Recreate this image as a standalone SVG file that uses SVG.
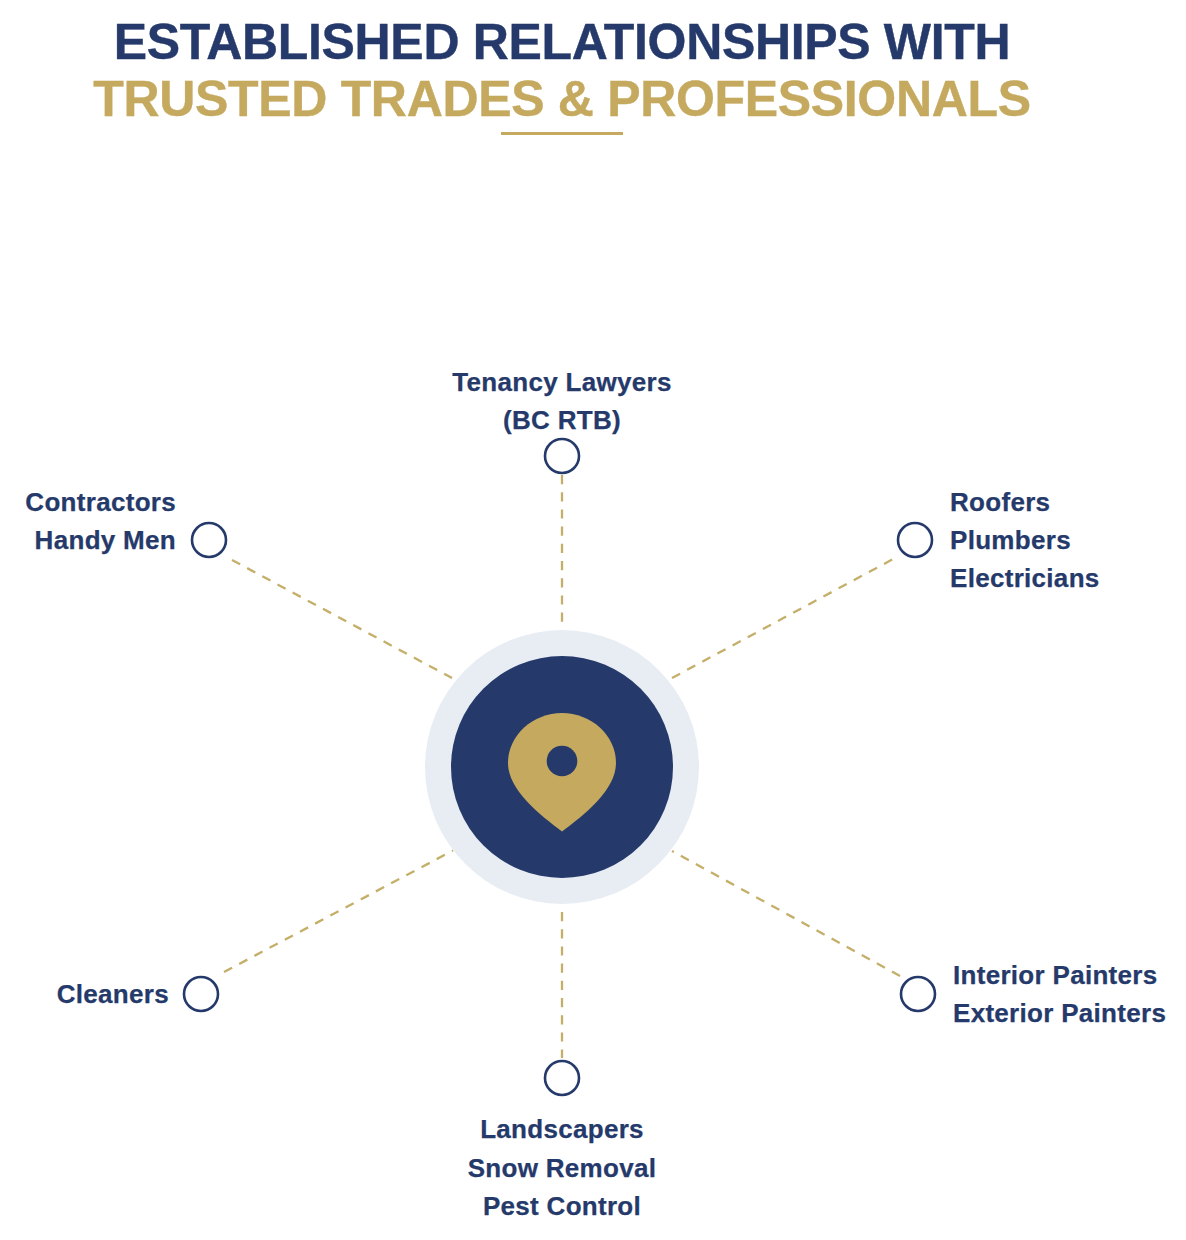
<svg xmlns="http://www.w3.org/2000/svg" width="1186" height="1240" viewBox="0 0 1186 1240">
<style>
.t{font-family:"Liberation Sans",Arial,sans-serif;font-weight:700}
.h{font-size:50px;letter-spacing:-.33px;stroke-width:.4px}
.l{font-size:26px;fill:#253a6b;stroke:#253a6b;stroke-width:.25px;letter-spacing:.3px}
.d{stroke:#c4ae68;stroke-width:2.300;stroke-dasharray:9.200 8;fill:none}
.n{fill:#fff;stroke:#253a6b;stroke-width:2.600}
</style>
<rect width="1186" height="1240" fill="#fff"/>
<text class="t h" x="562" y="59" text-anchor="middle" fill="#253a6b" stroke="#253a6b">ESTABLISHED RELATIONSHIPS WITH</text>
<text class="t h" x="562" y="116" text-anchor="middle" fill="#c4a95e" stroke="#c4a95e">TRUSTED TRADES &amp; PROFESSIONALS</text>
<rect x="501" y="132" width="122" height="3" fill="#c4a95e"/>
<g id="connectors">
<line class="d" x1="562" y1="475" x2="562" y2="622"/>
<line class="d" x1="672" y1="678" x2="895" y2="558"/>
<line class="d" x1="232" y1="560" x2="452" y2="678"/>
<line class="d" x1="224" y1="972" x2="453" y2="850.500"/>
<line class="d" x1="900" y1="976" x2="672" y2="851"/>
<line class="d" x1="562" y1="912" x2="562" y2="1058"/>
</g>
<g id="hub">
<circle cx="562" cy="767" r="137" fill="#e8edf4"/>
<circle cx="562" cy="767" r="111" fill="#253a6b"/>
<path d="M562 831.500 C540 815 508 790 508 763 C508 735 533 713 562 713 C591 713 616 735 616 763 C616 790 584 815 562 831.500 Z" fill="#c4a95e"/>
<circle cx="562" cy="761" r="15.300" fill="#253a6b"/>
</g>
<g id="node-lawyers"><circle class="n" cx="562" cy="456" r="17"/>
<text class="t l" x="562" y="391" text-anchor="middle">Tenancy Lawyers</text><text class="t l" x="562" y="429" text-anchor="middle">(BC RTB)</text></g>
<g id="node-contractors"><circle class="n" cx="209" cy="540" r="17"/>
<text class="t l" x="176" y="511" text-anchor="end">Contractors</text><text class="t l" x="176" y="549" text-anchor="end">Handy Men</text></g>
<g id="node-roofers"><circle class="n" cx="915" cy="540" r="17"/>
<text class="t l" x="950" y="511">Roofers</text><text class="t l" x="950" y="549">Plumbers</text><text class="t l" x="950" y="587">Electricians</text></g>
<g id="node-cleaners"><circle class="n" cx="201" cy="994" r="17"/>
<text class="t l" x="169" y="1003" text-anchor="end">Cleaners</text></g>
<g id="node-painters"><circle class="n" cx="918" cy="994" r="17"/>
<text class="t l" x="953" y="984">Interior Painters</text><text class="t l" x="953" y="1022">Exterior Painters</text></g>
<g id="node-landscapers"><circle class="n" cx="562" cy="1078" r="17"/>
<text class="t l" x="562" y="1138" text-anchor="middle">Landscapers</text><text class="t l" x="562" y="1177" text-anchor="middle">Snow Removal</text><text class="t l" x="562" y="1215" text-anchor="middle">Pest Control</text></g>
</svg>
